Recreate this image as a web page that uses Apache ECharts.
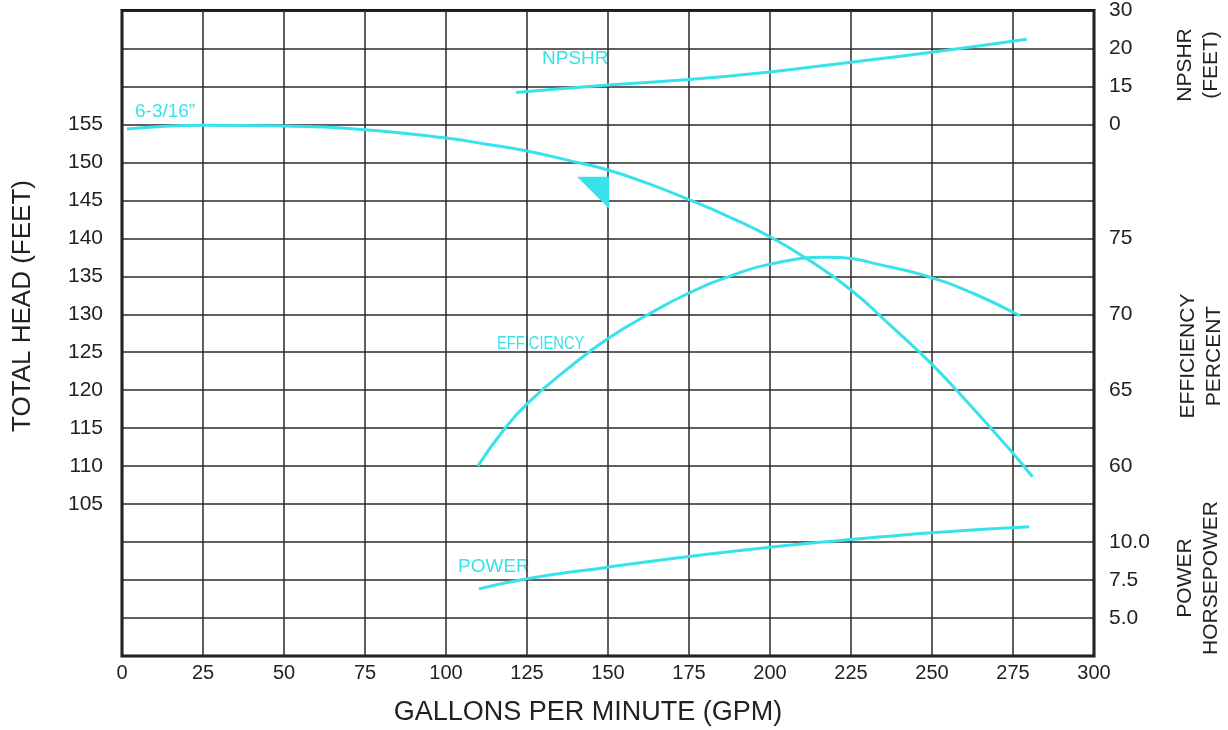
<!DOCTYPE html>
<html>
<head>
<meta charset="utf-8">
<script src="https://cdn.jsdelivr.net/npm/echarts@6/dist/echarts.min.js"></script>
<style>html,body{margin:0;padding:0;background:#fff;}#c{width:1228px;height:730px;}</style>
</head>
<body>
<div id="c"></div>
<script>
// ---- data ----
var gpmTicks = [0, 25, 50, 75, 100, 125, 150, 175, 200, 225, 250, 275, 300];
var headTickLabels = [105, 110, 115, 120, 125, 130, 135, 140, 145, 150, 155];
var effTickLabels = [60, 65, 70, 75];
var powerTickLabels = [5.0, 7.5, 10.0];
var npshrTickLabels = {10: '0', 15: '15', 20: '20', 25: '30'};

var gpmHead = [1.5, 25, 50, 75, 100, 112.5, 125, 137.5, 150, 162.5, 175, 187.5, 200, 212.5, 225, 237.5, 250, 262.5, 275, 281];
var head    = [154.4, 154.9, 154.8, 154.3, 153.2, 152.4, 151.5, 150.3, 149.0, 147.2, 145.1, 142.8, 140.2, 137.0, 133.2, 128.4, 123.4, 117.7, 111.7, 108.6];

var gpmEff = [109.8, 117.5, 125, 137.5, 150, 162.5, 175, 187.5, 200, 217.5, 237.5, 250, 262.5, 277.2];
var eff    = [60.0, 62.3, 64.1, 66.4, 68.4, 70.0, 71.4, 72.5, 73.3, 73.75, 73.1, 72.4, 71.4, 69.9];

var gpmPow = [110.2, 125, 150, 175, 200, 225, 250, 280];
var power  = [6.92, 7.59, 8.35, 9.05, 9.66, 10.17, 10.62, 11.01];

var gpmNpsh = [121.6, 150, 175, 200, 225, 250, 279.2];
var npshr   = [14.2, 15.2, 15.9, 16.9, 18.2, 19.5, 21.2];

var bepMarker = [[145.4, 146.0]];

// ---- chart ----
var CYAN = '#38E2EA';
var FONT = "'Liberation Sans', Arial, Helvetica, sans-serif";
function zip(a, b) { return a.map(function (v, i) { return [v, b[i]]; }); }
function has(arr, v) { return arr.some(function (t) { return Math.abs(t - v) < 1e-6; }); }

var chart = echarts.init(document.getElementById('c'), null, {renderer: 'canvas'});
var lblStyle = {color: '#222', fontSize: 21, fontFamily: FONT};
function curve(name, axis, data) {
  return {type: 'line', name: name, yAxisIndex: axis, data: data, smooth: 0.5,
          symbol: 'none', lineStyle: {color: CYAN, width: 3}, z: 3};
}

var option = {
  animation: false,
  backgroundColor: '#fff',
  grid: {left: 122, right: 134, top: 8, bottom: 74, show: true, borderColor: '#111', borderWidth: 3, backgroundColor: 'transparent'},
  xAxis: {
    type: 'value', min: 0, max: 300, interval: 25,
    axisLine: {show: false}, axisTick: {show: false},
    axisLabel: {color: '#222', fontSize: 20, fontFamily: FONT, margin: 7,
      formatter: function (v) { return has(gpmTicks, v) ? String(v) : ''; }},
    splitLine: {show: true, lineStyle: {color: '#2a2a2a', width: 1.5}}
  },
  yAxis: [
    { // total head
      type: 'value', position: 'left', min: 85, max: 170, interval: 5,
      axisLine: {show: false}, axisTick: {show: false},
      axisLabel: Object.assign({margin: 19, formatter: function (v) { return has(headTickLabels, v) ? String(v) : ''; }}, lblStyle),
      splitLine: {show: true, lineStyle: {color: '#2a2a2a', width: 1.5}}
    },
    { // NPSHR
      type: 'value', position: 'right', min: -60, max: 25, interval: 5,
      axisLine: {show: false}, axisTick: {show: false}, splitLine: {show: false},
      axisLabel: Object.assign({margin: 15, formatter: function (v) { return npshrTickLabels[v] !== undefined ? npshrTickLabels[v] : ''; }}, lblStyle)
    },
    { // efficiency
      type: 'value', position: 'right', min: 47.5, max: 90, interval: 2.5,
      axisLine: {show: false}, axisTick: {show: false}, splitLine: {show: false},
      axisLabel: Object.assign({margin: 15, formatter: function (v) { return has(effTickLabels, v) ? String(v) : ''; }}, lblStyle)
    },
    { // power
      type: 'value', position: 'right', min: 2.5, max: 45, interval: 2.5,
      axisLine: {show: false}, axisTick: {show: false}, splitLine: {show: false},
      axisLabel: Object.assign({margin: 15, formatter: function (v) { return has(powerTickLabels, v) ? v.toFixed(1) : ''; }}, lblStyle)
    }
  ],
  series: [
    curve('head', 0, zip(gpmHead, head)),
    curve('npshr', 1, zip(gpmNpsh, npshr)),
    curve('eff', 2, zip(gpmEff, eff)),
    curve('power', 3, zip(gpmPow, power)),
    {type: 'scatter', yAxisIndex: 0, data: bepMarker, symbol: 'path://M0,0 L32,0 L32,32 Z', symbolSize: 32,
     itemStyle: {color: CYAN, opacity: 1}, z: 4}
  ],
  graphic: [
    {type: 'text', left: 135, top: 102, style: {text: '6-3/16\u201D', font: '19px ' + FONT, fill: CYAN}},
    {type: 'text', left: 542, top: 49, style: {text: 'NPSHR', font: '19px ' + FONT, fill: CYAN}},
    {type: 'text', x: 497, y: 344, scaleX: 0.84, style: {text: 'EFFICIENCY', font: '17.5px ' + FONT, fill: CYAN, verticalAlign: 'middle', textVerticalAlign: 'middle'}},
    {type: 'text', left: 458, top: 557, style: {text: 'POWER', font: '19px ' + FONT, fill: CYAN}},

    {type: 'text', x: 588, y: 713, style: {text: 'GALLONS PER MINUTE (GPM)', font: '27px ' + FONT, fill: '#222', align: 'center', verticalAlign: 'middle', textAlign: 'center', textVerticalAlign: 'middle'}},
    {type: 'text', x: 23, y: 306, rotation: Math.PI / 2, style: {text: 'TOTAL HEAD (FEET)', font: '26px ' + FONT, fill: '#222', align: 'center', verticalAlign: 'middle', textAlign: 'center', textVerticalAlign: 'middle'}},
    {type: 'text', x: 1198, y: 65, rotation: Math.PI / 2, style: {text: 'NPSHR\n(FEET)', font: '21px ' + FONT, lineHeight: 26, fill: '#222', align: 'center', verticalAlign: 'middle', textAlign: 'center', textVerticalAlign: 'middle'}},
    {type: 'text', x: 1201, y: 356, rotation: Math.PI / 2, style: {text: 'EFFICIENCY\nPERCENT', font: '21px ' + FONT, lineHeight: 26, fill: '#222', align: 'center', verticalAlign: 'middle', textAlign: 'center', textVerticalAlign: 'middle'}},
    {type: 'text', x: 1198, y: 578, rotation: Math.PI / 2, style: {text: 'POWER\nHORSEPOWER', font: '21px ' + FONT, lineHeight: 26, fill: '#222', align: 'center', verticalAlign: 'middle', textAlign: 'center', textVerticalAlign: 'middle'}}
  ]
};
chart.setOption(option);
</script>
</body>
</html>
